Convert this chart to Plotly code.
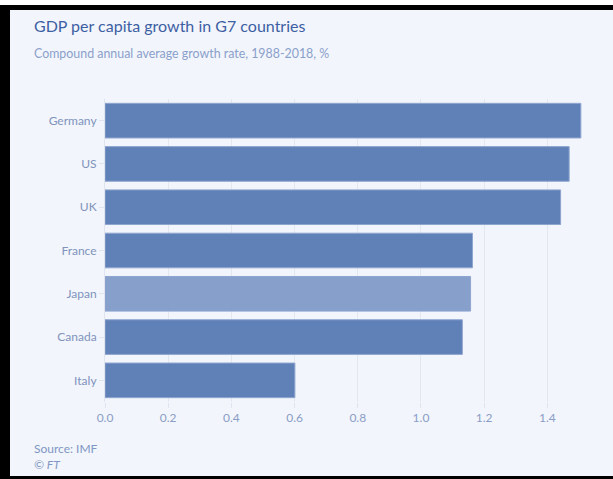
import plotly.graph_objects as go

countries = ["Germany", "US", "UK", "France", "Japan", "Canada", "Italy"]
growth = [1.506, 1.469, 1.442, 1.163, 1.157, 1.131, 0.601]
bar_colors = ["#6080b8", "#6080b8", "#6080b8", "#6080b8", "#879fcb", "#6080b8", "#6080b8"]
x_ticks = [0.0, 0.2, 0.4, 0.6, 0.8, 1.0, 1.2, 1.4]
x_tick_labels = ["0.0", "0.2", "0.4", "0.6", "0.8", "1.0", "1.2", "1.4"]

W, H = 613, 479
FONT = "Lato, Roboto, sans-serif"
BG = "#f2f5fb"

fig = go.Figure(go.Bar(
    x=growth, y=countries, orientation="h",
    marker=dict(color=bar_colors, line=dict(color="#8ea5cf", width=1)),
    width=0.8,
))

L, R, T, B = 105, 23, 99, 77
fig.update_layout(
    width=W, height=H,
    margin=dict(l=L, r=R, t=T, b=B, autoexpand=False),
    paper_bgcolor=BG, plot_bgcolor=BG,
    showlegend=False,
    font=dict(family=FONT, color="#7f93bd", size=12),
    xaxis=dict(range=[0, 1.535], tickvals=x_ticks, ticktext=x_tick_labels,
               showgrid=True, gridcolor="#e3e7ef", gridwidth=1, zeroline=False,
               ticks="outside", ticklen=5, tickcolor="#dfe4ee",
               tickfont=dict(size=12, color="#8a9dc6"), fixedrange=True),
    yaxis=dict(categoryorder="array", categoryarray=countries[::-1],
               showline=True, linecolor="#dfe4ee", linewidth=1,
               ticks="outside", ticklen=5, tickcolor="#dfe4ee",
               tickfont=dict(size=12, color="#7f93bd"), showgrid=False,
               range=[-0.5, 6.5], fixedrange=True),
    bargap=0.2,
)

def px(xp):
    return (xp - L) / (W - L - R)

def py(yp):
    return (H - B - yp) / (H - T - B)

annotations = [
    dict(text="GDP per capita growth in G7 countries", x=px(33), y=py(36), xanchor="left",
         yanchor="bottom", font=dict(size=16, color="#3d5fa3")),
    dict(text="Compound annual average growth rate, 1988-2018, %", x=px(33), y=py(62), xanchor="left",
         yanchor="bottom", font=dict(size=12.4, color="#8aa0cc")),
    dict(text="Source: IMF", x=px(33), y=py(457), xanchor="left",
         yanchor="bottom", font=dict(size=12, color="#8097c4")),
    dict(text="<i>© FT</i>", x=px(33), y=py(473), xanchor="left",
         yanchor="bottom", font=dict(size=12, color="#8097c4")),
]
for a in annotations:
    a.update(xref="paper", yref="paper", showarrow=False, borderpad=0)
fig.update_layout(annotations=annotations)

shapes = [
    dict(x0=px(0), x1=px(W), y0=py(0), y1=py(5), fillcolor="white"),
    dict(x0=px(0), x1=px(W), y0=py(5), y1=py(10), fillcolor="black"),
    dict(x0=px(0), x1=px(10), y0=py(5), y1=py(H), fillcolor="black"),
    dict(x0=px(0), x1=px(W), y0=py(476), y1=py(H), fillcolor="black"),
]
for s in shapes:
    s.update(type="rect", xref="paper", yref="paper", line=dict(width=0), layer="above")
fig.update_layout(shapes=shapes)

fig.write_html("out.html", config={"displayModeBar": False},
               post_script="document.body.style.margin='0';document.body.style.overflow='hidden';")
